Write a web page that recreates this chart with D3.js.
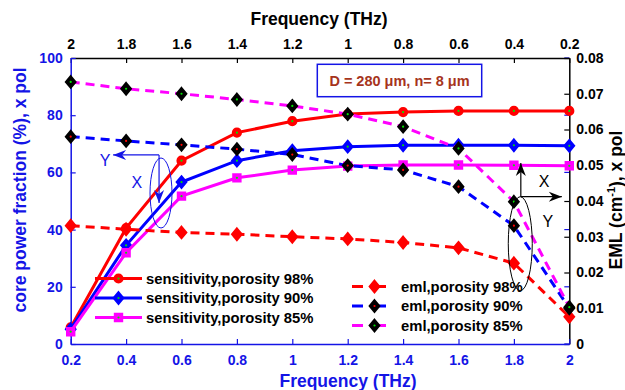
<!DOCTYPE html>
<html>
<head>
<meta charset="utf-8">
<script src="https://cdn.jsdelivr.net/npm/d3@7"></script>
<style>
  body { margin: 0; background: #fff; }
  svg { display: block; font-family: "Liberation Sans", Arial, sans-serif; }
</style>
</head>
<body>
<div id="chart"></div>
<script>
// Frequency points (THz) shared by all series
var freq = [0.2, 0.4, 0.6, 0.8, 1.0, 1.2, 1.4, 1.6, 1.8, 2.0];

// Core power fraction (%) - left axis
var sens98 = [5.8, 40.5, 64.1, 73.9, 77.9, 80.4, 81.1, 81.5, 81.5, 81.5];
var sens90 = [5.2, 34.5, 56.6, 64.1, 67.6, 69.0, 69.5, 69.5, 69.5, 69.3];
var sens85 = [4.3, 31.9, 51.7, 58.1, 60.8, 62.2, 62.6, 62.6, 62.5, 62.3];

// Effective material loss (cm^-1) - right axis
var eml98 = [0.0331, 0.0321, 0.0312, 0.0307, 0.0300, 0.0294, 0.0284, 0.0269, 0.0226, 0.0076];
var eml90 = [0.0580, 0.0568, 0.0557, 0.0545, 0.0530, 0.0499, 0.0487, 0.0440, 0.0331, 0.0100];
var eml85 = [0.0733, 0.0714, 0.0700, 0.0684, 0.0666, 0.0643, 0.0608, 0.0547, 0.0398, 0.0103];

// Tick values
var leftTicks = [0, 20, 40, 60, 80, 100];
var rightTicks = [0, 0.01, 0.02, 0.03, 0.04, 0.05, 0.06, 0.07, 0.08];

// Legend labels
var sensLabels = ["sensitivity,porosity 98%", "sensitivity,porosity 90%", "sensitivity,porosity 85%"];
var emlLabels = ["eml,porosity 98%", "eml,porosity 90%", "eml,porosity 85%"];

var svgWidth = 625;
var svgHeight = 390;

var margin = { top: 58, right: 55.7, bottom: 46, left: 70.7 };
var width = svgWidth - margin.left - margin.right;
var height = svgHeight - margin.top - margin.bottom;

var svg = d3.select("#chart")
  .append("svg")
  .attr("width", svgWidth)
  .attr("height", svgHeight);

// arrowheads for the annotation arrows
var defs = svg.append("defs");
[["arrowBlue", "#1414e6"], ["arrowBlack", "#000"]].forEach(function(a) {
  defs.append("marker")
    .attr("id", a[0])
    .attr("viewBox", "-14 -6 16 12")
    .attr("refX", 0)
    .attr("refY", 0)
    .attr("markerWidth", 16)
    .attr("markerHeight", 12)
    .attr("markerUnits", "userSpaceOnUse")
    .attr("orient", "auto")
    .append("path")
    .attr("d", "M0,0 L-13,-5 L-9,0 L-13,5 Z")
    .attr("fill", a[1]);
});

var chart = svg.append("g")
  .attr("transform", `translate(${margin.left}, ${margin.top})`);

// Scales
var xScale = d3.scaleLinear().domain([0.2, 2]).range([0, width]);
var xTopScale = d3.scaleLinear().domain([2, 0.2]).range([0, width]);
var yLeft = d3.scaleLinear().domain([0, 100]).range([height, 0]);
var yRight = d3.scaleLinear().domain([0, 0.08]).range([height, 0]);

var blue = "#1414e6";

// Axes
var bottomAxis = d3.axisBottom(xScale)
  .tickValues(freq)
  .tickFormat(d => String(d))
  .tickSizeInner(-5).tickSizeOuter(0).tickPadding(11);

var topAxis = d3.axisTop(xTopScale)
  .tickValues(freq)
  .tickFormat(d => String(d))
  .tickSizeInner(-5).tickSizeOuter(0).tickPadding(9);

var leftAxis = d3.axisLeft(yLeft)
  .tickValues(leftTicks)
  .tickSizeInner(-5).tickSizeOuter(0).tickPadding(8);

var rightAxis = d3.axisRight(yRight)
  .tickValues(rightTicks)
  .tickFormat(d => d === 0 ? "0" : d3.format(".2f")(d))
  .tickSizeInner(-5).tickSizeOuter(0).tickPadding(7);

function styleAxis(g, color) {
  g.selectAll("path").attr("stroke", color).attr("stroke-width", 1.5);
  g.selectAll("line").attr("stroke", color).attr("stroke-width", 1.2);
  g.selectAll("text")
    .attr("fill", color)
    .style("font-size", "14px")
    .style("font-weight", "bold");
}

// mirrored left-axis ticks on the right edge
chart.append("g")
  .selectAll("line")
  .data(leftTicks)
  .enter()
  .append("line")
  .attr("x1", width).attr("x2", width - 5)
  .attr("y1", d => yLeft(d)).attr("y2", d => yLeft(d))
  .attr("stroke", blue).attr("stroke-width", 1.2);

chart.append("g").call(topAxis).call(g => styleAxis(g, "#000"));
chart.append("g")
  .attr("transform", `translate(${width},0)`)
  .call(rightAxis).call(g => styleAxis(g, "#000"));
chart.append("g").call(leftAxis).call(g => styleAxis(g, blue));
chart.append("g")
  .attr("transform", `translate(0,${height})`)
  .call(bottomAxis).call(g => styleAxis(g, blue));

// Axis titles
svg.append("text")
  .attr("x", 319).attr("y", 25)
  .attr("text-anchor", "middle")
  .style("font-size", "17.5px").style("font-weight", "bold")
  .text("Frequency (THz)");

svg.append("text")
  .attr("x", 348).attr("y", 387)
  .attr("text-anchor", "middle")
  .attr("fill", blue)
  .style("font-size", "17.5px").style("font-weight", "bold")
  .text("Frequency (THz)");

svg.append("text")
  .attr("transform", "translate(26,190) rotate(-90)")
  .attr("text-anchor", "middle")
  .attr("fill", blue)
  .style("font-size", "17.5px").style("font-weight", "bold")
  .text("core power fraction (%), x pol");

var rTitle = svg.append("text")
  .attr("transform", "translate(622,200) rotate(-90)")
  .attr("text-anchor", "middle")
  .style("font-size", "17.5px").style("font-weight", "bold");
rTitle.append("tspan").text("EML (cm");
rTitle.append("tspan").attr("dy", -7).style("font-size", "11px").text("-1");
rTitle.append("tspan").attr("dy", 7).text("), x pol");

// Marker shapes
function markerPath(shape) {
  if (shape === "diamond") return "M0,-6 L5,0 L0,6 L-5,0 Z";
  if (shape === "square") return "M-3.8,-3.8 L3.8,-3.8 L3.8,3.8 L-3.8,3.8 Z";
  return d3.symbol().type(d3.symbolCircle).size(55)();
}

function drawMarker(g, s) {
  g.append("path")
    .attr("d", markerPath(s.shape))
    .attr("fill", s.fill)
    .attr("stroke", s.stroke)
    .attr("stroke-width", 1.8);
  g.append("circle")
    .attr("r", 1.1)
    .attr("fill", s.dot);
}

// Series table built from the arrays above
var series = [
  { values: sens98, y: yLeft, color: "#ff0000", dashed: false, shape: "circle", fill: "#ff0000", stroke: "#ff0000", dot: "#00e000", label: sensLabels[0] },
  { values: sens90, y: yLeft, color: "#0000ff", dashed: false, shape: "diamond", fill: "#0000ff", stroke: "#0000ff", dot: "#00e000", label: sensLabels[1] },
  { values: sens85, y: yLeft, color: "#ff00ff", dashed: false, shape: "square", fill: "#ff00ff", stroke: "#ff00ff", dot: "#00e000", label: sensLabels[2] },
  { values: eml98, y: yRight, color: "#ff0000", dashed: true, shape: "diamond", fill: "#ff0000", stroke: "#ff0000", dot: "#ff0000", label: emlLabels[0] },
  { values: eml90, y: yRight, color: "#0000ff", dashed: true, shape: "diamond", fill: "#000", stroke: "#000", dot: "#ff0000", label: emlLabels[1] },
  { values: eml85, y: yRight, color: "#ff00ff", dashed: true, shape: "diamond", fill: "#000", stroke: "#000", dot: "#00e000", label: emlLabels[2] }
];

series.forEach(function(s) {
  var pts = freq.map((f, i) => [f, s.values[i]]);
  var line = d3.line()
    .x(d => xScale(d[0]))
    .y(d => s.y(d[1]));

  chart.append("path")
    .datum(pts)
    .attr("d", line)
    .attr("fill", "none")
    .attr("stroke", s.color)
    .attr("stroke-width", 3)
    .attr("stroke-dasharray", s.dashed ? "9,6" : null);

  chart.selectAll(null)
    .data(pts)
    .enter()
    .append("g")
    .attr("transform", d => `translate(${xScale(d[0])},${s.y(d[1])})`)
    .each(function() { drawMarker(d3.select(this), s); });
});

// Legends
function drawLegend(items, x0, x1, rows) {
  items.forEach(function(s, i) {
    var row = svg.append("g").attr("transform", `translate(0,${rows[i]})`);
    row.append("line")
      .attr("x1", x0).attr("x2", x1)
      .attr("stroke", s.color)
      .attr("stroke-width", 3)
      .attr("stroke-dasharray", s.dashed ? "11,12" : null);
    var m = row.append("g").attr("transform", `translate(${(x0 + x1) / 2},0)`);
    drawMarker(m, s);
    row.append("text")
      .attr("x", x1 + 4)
      .attr("dy", "0.35em")
      .style("font-size", "14.8px").style("font-weight", "bold")
      .text(s.label);
  });
}

drawLegend(series.slice(0, 3), 95, 142, [278.5, 298, 317.5]);
drawLegend(series.slice(3), 352, 397, [286.5, 306, 325.5]);

// Parameter box
svg.append("rect")
  .attr("x", 317.3).attr("y", 64.3)
  .attr("width", 164.4).attr("height", 32.4)
  .attr("fill", "#fff")
  .attr("stroke", blue).attr("stroke-width", 1.5);

svg.append("text")
  .attr("x", 399.5).attr("y", 80.5)
  .attr("dy", "0.35em")
  .attr("text-anchor", "middle")
  .attr("fill", "#a6341c")
  .style("font-size", "14.5px").style("font-weight", "bold")
  .text("D = 280 \u03bcm, n= 8 \u03bcm");

// Polarisation annotations: ellipse grouping + axis arrows
function annotate(o) {
  chart.append("ellipse")
    .attr("cx", xScale(o.cx)).attr("cy", o.y(o.cy))
    .attr("rx", o.rx).attr("ry", o.ry)
    .attr("fill", "none")
    .attr("stroke", o.color).attr("stroke-width", 1);
  var ox = xScale(o.ox), oy = o.y(o.oy);
  chart.append("line")
    .attr("x1", ox).attr("y1", oy)
    .attr("x2", xScale(o.hx)).attr("y2", oy)
    .attr("stroke", o.color).attr("stroke-width", 1.2)
    .attr("marker-end", `url(#${o.arrow})`);
  chart.append("line")
    .attr("x1", ox).attr("y1", oy)
    .attr("x2", ox).attr("y2", o.y(o.vy))
    .attr("stroke", o.color).attr("stroke-width", 1.2)
    .attr("marker-end", `url(#${o.arrow})`);
  o.labels.forEach(function(l) {
    chart.append("text")
      .attr("x", xScale(l[1])).attr("y", o.y(l[2]))
      .attr("dy", "0.35em")
      .attr("text-anchor", "middle")
      .attr("fill", o.color)
      .style("font-size", "16px")
      .text(l[0]);
  });
}

annotate({ y: yLeft, color: blue, arrow: "arrowBlue",
  cx: 0.526, cy: 52.8, rx: 11, ry: 35,
  ox: 0.519, oy: 66.1, hx: 0.353, vy: 49.3,
  labels: [["Y", 0.324, 64.3], ["X", 0.439, 56.6]] });

annotate({ y: yRight, color: "#000", arrow: "arrowBlack",
  cx: 1.823, cy: 0.02806, rx: 12, ry: 47,
  ox: 1.825, oy: 0.0412, hx: 1.973, vy: 0.0506,
  labels: [["X", 1.909, 0.0454], ["Y", 1.923, 0.0342]] });
</script>
</body>
</html>
